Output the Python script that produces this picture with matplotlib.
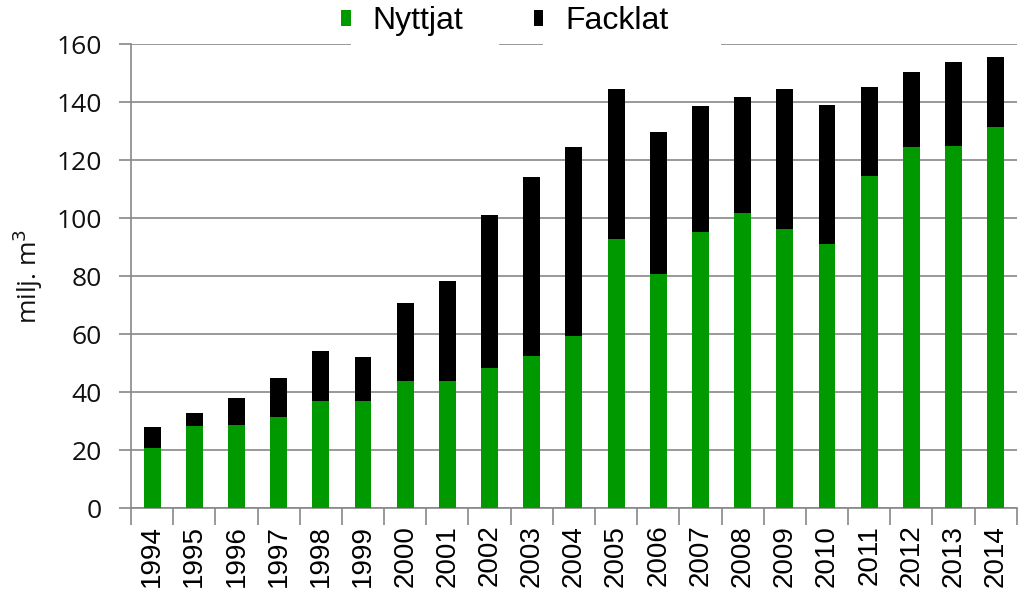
import numpy as np
import matplotlib
matplotlib.use('Agg')
import matplotlib.pyplot as plt
from matplotlib.patches import Patch, Rectangle

# --- Data (milj. m3) --------------------------------------------------------
years = [str(y) for y in range(1994, 2015)]
totals = [28.0, 32.9, 37.9, 44.7, 54.1, 52.1, 70.7, 78.2, 101.0, 114.2, 124.6,
          144.6, 129.8, 138.7, 141.8, 144.4, 138.9, 145.3, 150.2, 153.9, 155.4]
nyttjat = [20.6, 28.4, 28.5, 31.5, 36.9, 36.9, 43.8, 43.8, 48.4, 52.5, 59.4,
           92.6, 80.7, 95.1, 101.8, 96.1, 90.9, 114.5, 124.5, 124.9, 131.4]
facklat = [t - n for t, n in zip(totals, nyttjat)]

GREEN = '#009900'
GRID = '#888888'

# --- Figure -----------------------------------------------------------------
W, H = 1026, 593
fig = plt.figure(figsize=(W / 100, H / 100), dpi=100)
ax = fig.add_axes([0.1277, 0.1433, 0.991 - 0.1277, 0.9258 - 0.1433])

x = np.arange(len(years))
ax.bar(x, nyttjat, width=0.4, color=GREEN, zorder=3)
ax.bar(x, facklat, width=0.4, bottom=nyttjat, color='black', zorder=3)

ax.set_xlim(-0.5, len(years) - 0.5)
ax.set_ylim(0, 160)
ax.set_yticks(np.arange(0, 161, 20))
ax.yaxis.grid(True, color=GRID, linewidth=1.2, zorder=0)

for side in ['top', 'right']:
    ax.spines[side].set_visible(False)
for side in ['left', 'bottom']:
    ax.spines[side].set_color(GRID)
    ax.spines[side].set_linewidth(1.2)

# year labels at bar centres, tick marks at category boundaries
ax.set_xticks(x)
ax.set_xticklabels(years, rotation=90, family='Liberation Sans', fontsize=20)
ax.tick_params(axis='x', which='major', length=0, pad=12)
ax.set_xticks(np.arange(-0.5, len(years)), minor=True)
ax.tick_params(axis='x', which='minor', length=12, width=1.2, color=GRID)

ax.tick_params(axis='y', length=9, width=1.2, color=GRID, pad=12, labelsize=19,
               labelcolor='#111111')
for lab in ax.get_yticklabels():
    lab.set_family('Open Sans')

ax.set_ylabel('milj. m$^3$', family='Open Sans', fontsize=19, color='#111111', labelpad=8)

# white boxes behind legend entries (they break the top gridline)
for x0, x1 in [(351, 499), (543, 721)]:
    fig.patches.append(Rectangle((x0 / W, 1 - 50 / H), (x1 - x0) / W, 50 / H,
                                 transform=fig.transFigure, facecolor='white',
                                 edgecolor='none', zorder=5))

# --- Legend -------------------------------------------------------------------
handles = [Patch(facecolor=GREEN, edgecolor='none'),
           Patch(facecolor='black', edgecolor='none')]
leg = fig.legend(handles, ['Nyttjat', 'Facklat'], ncol=2, loc='center',
                 bbox_to_anchor=(505 / W, 1 - 21 / H),
                 prop={'family': 'Liberation Sans', 'size': 23},
                 handlelength=0.3, handleheight=0.4, handletextpad=0.7,
                 columnspacing=2.2, frameon=False, borderpad=0, borderaxespad=0)
leg.set_zorder(6)

fig.savefig('out.png', dpi=100)
